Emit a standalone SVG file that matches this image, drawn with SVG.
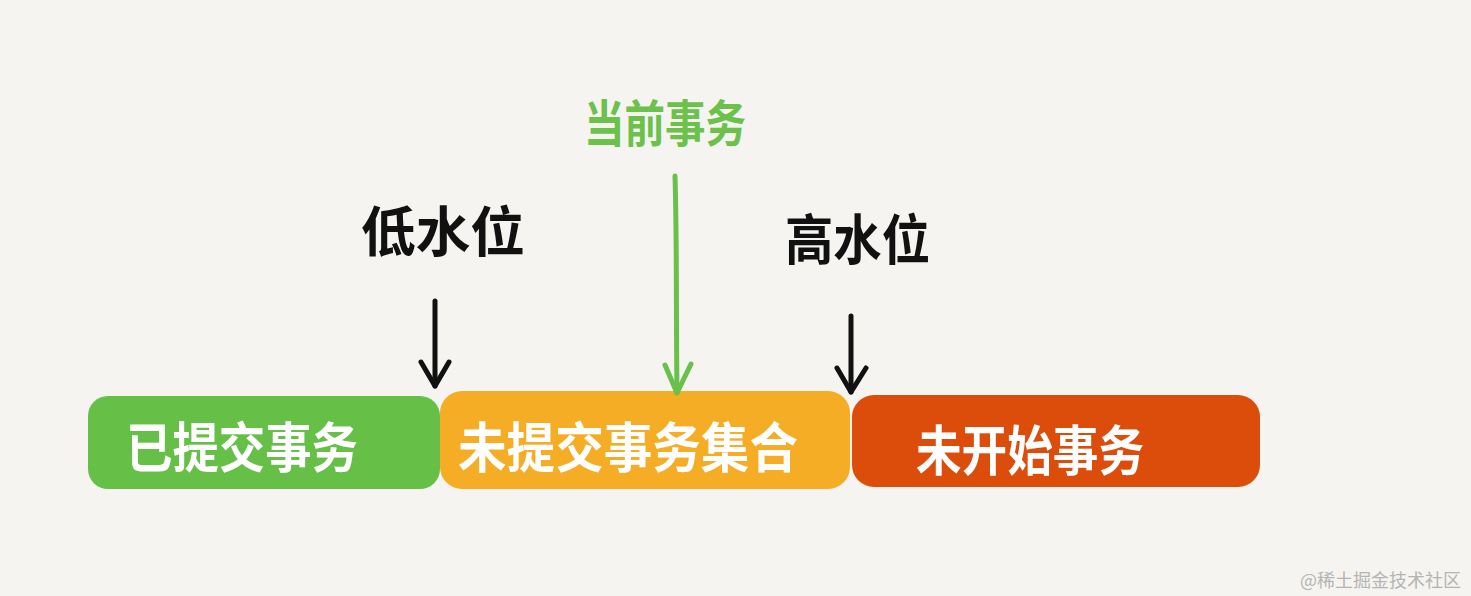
<svg xmlns="http://www.w3.org/2000/svg" width="1471" height="596" viewBox="0 0 1471 596">
<style>
.lbl{font-family:"Noto Sans CJK SC","Noto Sans",sans-serif;font-weight:700}
.box{font-family:"Noto Sans CJK SC","Noto Sans",sans-serif;font-weight:700;fill:#ffffff}
.blk{stroke:#111;stroke-width:5;fill:none;stroke-linecap:round;stroke-linejoin:round}
.grn{stroke:#69c04a;stroke-width:5;fill:none;stroke-linecap:round;stroke-linejoin:round}
</style>
<rect width="1471" height="596" fill="#f5f4f1"/>
<g id="committed">
<rect x="88" y="396" width="352" height="93" rx="20" fill="#66bf47"/>
<text class="box" x="126" y="468" font-size="54" textLength="232" lengthAdjust="spacingAndGlyphs">已提交事务</text>
</g>
<g id="uncommitted">
<rect x="440" y="391" width="410" height="98" rx="22" fill="#f5ad25"/>
<text class="box" x="458" y="468" font-size="54" textLength="340" lengthAdjust="spacingAndGlyphs">未提交事务集合</text>
</g>
<g id="notstarted">
<rect x="852" y="395" width="408" height="92" rx="22" fill="#dc4c0b"/>
<text class="box" x="916" y="471" font-size="54" textLength="228" lengthAdjust="spacingAndGlyphs">未开始事务</text>
</g>
<g id="current">
<text class="lbl" x="584" y="142" font-size="50" fill="#6bc14a" textLength="162" lengthAdjust="spacingAndGlyphs">当前事务</text>
</g>
<g id="low">
<text class="lbl" x="361" y="252" font-size="54" fill="#111" textLength="164" lengthAdjust="spacingAndGlyphs">低水位</text>
</g>
<g id="high">
<text class="lbl" x="785" y="260" font-size="54" fill="#111" textLength="145" lengthAdjust="spacingAndGlyphs">高水位</text>
</g>
<g id="connectors">
<path class="grn" d="M675 176 C677 240 676 320 677 393"/>
<path class="grn" d="M665 365 L677 393 L691 364"/>
<path class="blk" d="M435 301 L435 386"/>
<path class="blk" d="M421 362 L435 386 L449 362"/>
<path class="blk" d="M851 316 L851 392"/>
<path class="blk" d="M837 368 L851 392 L866 368"/>
</g>
<text x="1300" y="587" font-family="Noto Sans CJK SC,sans-serif" font-size="18" fill="#b4b4b4">@稀土掘金技术社区</text>
</svg>
